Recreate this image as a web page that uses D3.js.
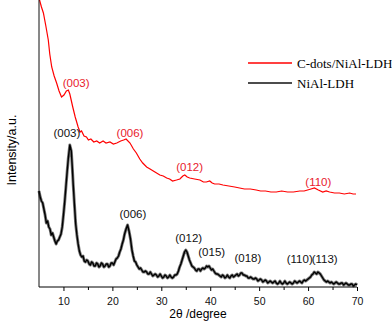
<!DOCTYPE html>
<html>

<head>
  <style>
    body {
      margin: 0;
      background: white;
      font-family: Arial, "Liberation Sans", Helvetica, sans-serif;
    }
  </style>
</head>

<body>
  <svg id="xrd"></svg>
  <script src="https://cdn.jsdelivr.net/npm/d3@7"></script>
  <script>
    var width = 392, height = 322;
    var padding = { top: 0, left: 39, bottom: 35, right: 35 };

    // x tick labels (2θ / degree)
    var xTicks = [10, 20, 30, 40, 50, 60, 70];
    var xMinorTicks = [15, 25, 35, 45, 55, 65];

    // NiAl-LDH, [2θ, intensity a.u.] (noisy trace)
    var nialData = [
      [5.0, 96], [5.25, 90], [5.5, 86], [5.75, 84], [6.0, 78], [6.25, 72], [6.5, 64], [6.75, 66],
      [7.0, 60], [7.25, 58], [7.5, 52], [7.75, 54], [8.0, 50], [8.25, 46], [8.5, 43], [8.75, 46],
      [9.0, 47], [9.25, 50], [9.5, 53], [9.75, 60], [10.0, 72], [10.25, 85], [10.5, 100],
      [10.75, 115], [11.0, 129], [11.3, 142], [11.6, 136], [11.8, 120], [12.0, 102], [12.25, 82],
      [12.5, 63], [12.75, 52], [13.0, 43], [13.25, 36], [13.5, 32], [13.75, 30], [14.0, 31],
      [14.25, 26], [14.5, 25], [14.75, 27], [15.0, 26], [15.25, 23], [15.5, 22], [15.75, 25],
      [16.0, 24], [16.25, 21], [16.5, 21], [16.75, 24], [17.0, 23], [17.25, 20], [17.5, 21],
      [17.75, 24], [18.0, 23], [18.25, 20], [18.5, 21], [18.75, 23], [19.0, 23], [19.25, 20],
      [19.5, 21], [19.75, 24], [20.0, 24], [20.25, 22], [20.5, 25], [20.75, 28], [21.0, 29],
      [21.25, 31], [21.5, 35], [21.75, 38], [22.0, 43], [22.25, 47], [22.5, 53], [22.8, 58],
      [23.1, 62], [23.4, 56], [23.7, 48], [24.0, 37], [24.25, 31], [24.5, 26], [24.75, 25],
      [25.0, 22], [25.25, 20], [25.5, 18], [25.75, 19], [26.0, 17], [26.25, 15], [26.5, 15],
      [26.75, 16], [27.0, 15], [27.25, 13], [27.5, 13], [27.75, 15], [28.0, 13], [28.25, 11],
      [28.5, 12], [28.75, 13], [29.0, 12], [29.25, 10], [29.5, 11], [29.75, 13], [30.0, 11],
      [30.25, 9], [30.5, 10], [30.75, 12], [31.0, 11], [31.25, 9], [31.5, 10], [31.75, 12],
      [32.0, 10], [32.25, 9], [32.5, 10], [32.75, 12], [33.0, 12], [33.25, 13], [33.5, 16],
      [33.75, 20], [34.0, 23], [34.25, 27], [34.5, 31], [34.75, 35], [35.0, 37], [35.25, 35],
      [35.5, 31], [35.75, 27], [36.0, 24], [36.25, 21], [36.5, 20], [36.75, 19], [37.0, 17],
      [37.25, 16], [37.5, 18], [37.75, 18], [38.0, 16], [38.25, 18], [38.5, 19], [38.75, 18],
      [39.0, 19], [39.25, 21], [39.5, 20], [39.75, 21], [40.0, 19], [40.25, 17], [40.5, 18],
      [40.75, 16], [41.0, 14], [41.25, 13], [41.5, 13], [41.75, 12], [42.0, 11], [42.25, 10],
      [42.5, 12], [42.75, 11], [43.0, 9], [43.25, 10], [43.5, 12], [43.75, 10], [44.0, 9],
      [44.25, 11], [44.5, 12], [44.75, 10], [45.0, 11], [45.25, 12], [45.5, 13], [45.75, 11],
      [46.0, 12], [46.25, 14], [46.5, 14], [46.75, 12], [47.0, 12], [47.25, 11], [47.5, 11],
      [47.75, 9], [48.0, 9], [48.25, 10], [48.5, 9], [48.75, 8], [49.0, 8], [49.25, 9],
      [49.5, 8], [49.75, 6], [50.0, 7], [50.25, 8], [50.5, 7], [50.75, 5], [51.0, 6],
      [51.25, 7], [51.5, 6], [51.75, 4], [52.0, 5], [52.25, 6], [52.5, 5], [52.75, 4],
      [53.0, 5], [53.25, 6], [53.5, 4], [53.75, 3], [54.0, 4], [54.25, 6], [54.5, 4],
      [54.75, 3], [55.0, 4], [55.25, 6], [55.5, 4], [55.75, 3], [56.0, 4], [56.25, 5],
      [56.5, 4], [56.75, 3], [57.0, 4], [57.25, 6], [57.5, 5], [57.75, 4], [58.0, 5],
      [58.25, 6], [58.5, 5], [58.75, 4], [59.0, 6], [59.25, 7], [59.5, 6], [59.75, 7],
      [60.0, 8], [60.25, 9], [60.5, 10], [60.75, 12], [61.0, 13], [61.25, 15], [61.5, 14],
      [61.75, 13], [62.0, 15], [62.25, 14], [62.5, 13], [62.75, 11], [63.0, 9], [63.25, 7],
      [63.5, 6], [63.75, 5], [64.0, 6], [64.25, 5], [64.5, 4], [64.75, 5], [65.0, 4],
      [65.25, 3], [65.5, 4], [65.75, 5], [66.0, 4], [66.25, 3], [66.5, 3], [66.75, 4],
      [67.0, 4], [67.25, 2], [67.5, 3], [67.75, 4], [68.0, 3], [68.25, 2], [68.5, 2],
      [68.75, 3], [69.0, 3], [69.25, 1], [69.5, 2], [69.75, 3], [70.0, 2]
    ];

    // C-dots/NiAl-LDH, [2θ, intensity a.u.]
    var cdotsData = [
      [5.0, 289], [5.5, 280], [5.9, 274], [6.4, 261], [6.9, 247], [7.2, 233], [7.6, 220],
      [8.1, 211], [8.6, 204], [9.1, 196], [9.6, 190], [10.1, 192], [10.6, 196], [11.0, 197],
      [11.3, 193], [11.9, 180], [12.4, 170], [13.0, 160], [13.4, 155], [13.7, 156],
      [14.2, 151], [14.7, 150], [15.1, 147], [15.6, 148], [16.2, 145], [16.8, 146],
      [17.4, 144], [18.1, 146], [18.7, 144], [19.5, 145], [20.2, 143], [20.9, 144],
      [21.7, 146], [22.3, 147], [22.8, 148], [23.6, 144], [24.3, 138], [24.9, 134],
      [25.6, 128], [26.2, 124], [27.0, 120], [27.7, 118], [28.7, 115], [29.7, 112],
      [30.4, 111], [31.1, 109], [31.7, 108], [32.3, 106], [33.1, 107], [33.8, 108],
      [34.4, 111], [34.8, 112], [35.3, 110], [35.8, 109], [36.8, 108], [37.9, 107],
      [38.6, 105], [39.2, 105], [39.9, 106], [40.4, 104], [40.9, 103], [41.8, 103],
      [42.6, 102], [43.8, 101], [45.0, 100], [46.0, 99], [47.0, 98], [48.2, 98], [49.4, 97],
      [50.3, 96], [51.3, 96], [52.4, 95], [53.5, 95], [54.6, 96], [55.8, 95], [57.0, 95],
      [58.3, 96], [59.2, 96], [59.9, 97], [60.6, 98], [61.3, 99], [62.1, 97], [63.0, 95],
      [63.7, 96], [64.4, 95], [65.4, 94], [66.4, 94], [67.4, 93], [68.5, 94], [69.2, 93],
      [69.8, 93]
    ];

    // peak labels: [text, 2θ, intensity at text baseline]
    var nialLabels = [
      ["(003)", 10.7, 150], ["(006)", 24.2, 69], ["(012)", 35.6, 45], ["(015)", 40.3, 31],
      ["(018)", 47.7, 25], ["(110)", 58.3, 24], ["(113)", 63.4, 24]
    ];
    var cdotsLabels = [
      ["(003)", 12.6, 200], ["(006)", 23.6, 150], ["(012)", 35.8, 116], ["(110)", 62.1, 101]
    ];

    var legendNames = ["C-dots/NiAl-LDH", "NiAl-LDH"];
    var legendColors = ["#ff0000", "#111111"];

    var svg = d3.select("#xrd")
      .attr("width", width)
      .attr("height", height);

    var xScale = d3.scaleLinear()
      .domain([5, 70])
      .range([padding.left, width - padding.right]);
    var yScale = d3.scaleLinear()
      .domain([0, 287])
      .range([height - padding.bottom, padding.top]);

    var line = d3.line()
      .x(function (d) { return xScale(d[0]); })
      .y(function (d) { return yScale(d[1]); });

    // 曲线
    svg.append("path")
      .datum(cdotsData)
      .attr("fill", "none")
      .attr("stroke", "#ff0000")
      .attr("stroke-width", 1.2)
      .attr("d", line);

    // 噪声带: 灰色底 + 黑色线
    svg.append("path")
      .datum(nialData)
      .attr("fill", "none")
      .attr("stroke", "#777")
      .attr("stroke-width", 3)
      .attr("stroke-linejoin", "round")
      .attr("d", line);
    svg.append("path")
      .datum(nialData)
      .attr("fill", "none")
      .attr("stroke", "#000")
      .attr("stroke-width", 1.4)
      .attr("stroke-linejoin", "round")
      .attr("d", line);

    // 峰标注
    function drawLabels(labels, color) {
      svg.append("g")
        .selectAll("text")
        .data(labels)
        .join("text")
        .attr("x", function (d) { return xScale(d[1]); })
        .attr("y", function (d) { return yScale(d[2]); })
        .attr("text-anchor", "middle")
        .attr("font-size", "11.5px")
        .attr("fill", color)
        .text(function (d) { return d[0]; });
    }
    drawLabels(nialLabels, "#111");
    drawLabels(cdotsLabels, "#e8202c");

    // 坐标轴
    var xAxis = d3.axisBottom(xScale)
      .tickValues(xTicks)
      .tickSize(4)
      .tickPadding(7)
      .tickFormat(d3.format("d"));
    var xg = svg.append("g")
      .attr("transform", "translate(0," + yScale(0) + ")")
      .call(xAxis);
    xg.select(".domain").attr("d", "M" + xScale(5) + ",0H" + xScale(70));
    xg.selectAll("text").attr("font-size", "10.5px").attr("font-family", "Arial, sans-serif").attr("fill", "#111");

    var minorAxis = d3.axisBottom(xScale)
      .tickValues(xMinorTicks)
      .tickSize(3)
      .tickFormat("");
    var mg = svg.append("g")
      .attr("transform", "translate(0," + yScale(0) + ")")
      .call(minorAxis);
    mg.select(".domain").remove();

    svg.append("line")
      .attr("x1", xScale(5)).attr("x2", xScale(5))
      .attr("y1", 0).attr("y2", yScale(0))
      .attr("stroke", "#111");

    svg.append("text")
      .attr("x", (xScale(5) + xScale(70)) / 2)
      .attr("y", 318)
      .attr("text-anchor", "middle")
      .attr("font-size", "12px")
      .text("2θ /degree");

    svg.append("text")
      .attr("transform", "translate(16," + 150 + ") rotate(-90)")
      .attr("text-anchor", "middle")
      .attr("font-size", "12.5px")
      .text("Intensity/a.u.");

    // 图例
    var legend = svg.append("g").attr("transform", "translate(248,63)");
    var rows = legend.selectAll("g")
      .data(legendNames)
      .join("g")
      .attr("transform", function (d, i) { return "translate(0," + i * 20 + ")"; });
    rows.append("line")
      .attr("x1", 0).attr("x2", 44)
      .attr("stroke", function (d, i) { return legendColors[i]; })
      .attr("stroke-width", 1.5);
    rows.append("text")
      .attr("x", 49)
      .attr("y", 5)
      .attr("font-family", "'Liberation Serif', 'Times New Roman', serif")
      .attr("font-size", "13px")
      .text(function (d) { return d; });
  </script>
</body>

</html>
